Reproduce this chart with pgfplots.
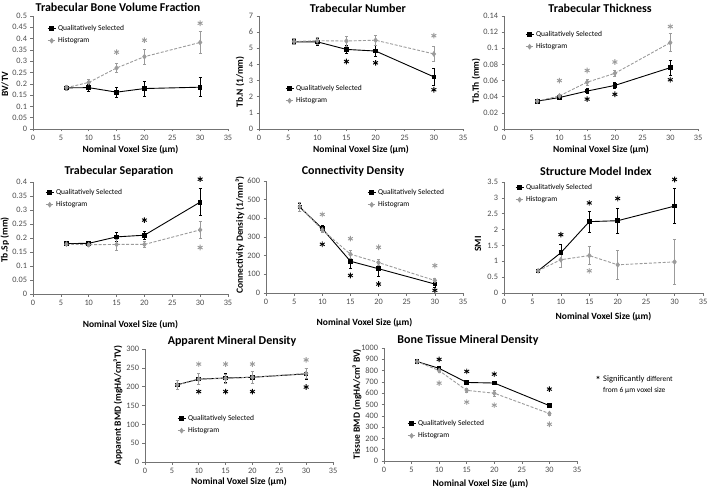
\documentclass[border=0pt]{standalone}
\usepackage{fontspec}
\setmainfont{Carlito}
\usepackage{pgfplots}
\pgfplotsset{compat=1.18}
\definecolor{hg}{HTML}{9B9B9B}
\definecolor{tk}{HTML}{4D4D4D}
\pgfplotsset{
 panel/.style={
   scale only axis, anchor=south west, clip=false,
   xmin=0, xmax=35, xtick={0,5,10,15,20,25,30,35}, ymin=0,
   axis lines=left, axis line style={-, draw=black!55, line width=0.6pt},
   tick align=outside, major tick length=2.5pt,
   tick style={draw=black!55, line width=0.5pt},
   tick label style={font=\fontsize{8.3}{9}\selectfont, text=tk},
   /pgf/number format/assume math mode=true,
   scaled y ticks=false,
   yticklabel style={/pgf/number format/fixed, /pgf/number format/precision=2, /pgf/number format/1000 sep={}},
   xlabel={Nominal Voxel Size (µm)},
   label style={font=\bfseries\fontsize{9.5}{10}\selectfont},
   title style={font=\bfseries\fontsize{12}{13}\selectfont, anchor=center},
   legend style={draw=none, fill=none, font=\fontsize{7.5}{8}\selectfont, anchor=north west, inner sep=0pt, row sep=1.5pt},
   legend cell align=left,
   legend entries={Qualitatively Selected, Histogram},
   legend image code/.code={\draw[mark repeat=2, mark phase=2] plot coordinates {(0pt,0pt) (4pt,0pt) (8pt,0pt)};},
 },
 qs/.style={black, line width=0.9pt, mark=square*, mark size=1.8pt, mark options={solid},
   error bars/.cd, y dir=both, y explicit, error bar style={black, line width=0.6pt},
   error mark options={rotate=90, mark size=1.6pt, black, line width=0.6pt}},
 hs/.style={hg, line width=0.9pt, dash pattern=on 3pt off 1.6pt, mark=diamond*, mark size=2.2pt, mark options={solid},
   error bars/.cd, y dir=both, y explicit, error bar style={hg, line width=0.6pt, solid},
   error mark options={rotate=90, mark size=1.6pt, hg, line width=0.6pt}},
 ab/.style={only marks, mark=asterisk, mark size=2.8pt, black, line width=0.9pt, forget plot},
 ag/.style={only marks, mark=asterisk, mark size=2.8pt, hg, line width=0.9pt, forget plot},
}
\begin{document}
\begin{tikzpicture}[x=1pt,y=1pt]
\useasboundingbox (0,0) rectangle (710,491);

% Panel 1
\begin{axis}[panel, at={(33pt,362pt)}, width=195pt, height=113pt, ymax=0.5,
  ytick={0,0.05,0.1,0.15,0.2,0.25,0.3,0.35,0.4,0.45,0.5},
  title={Trabecular Bone Volume Fraction}, title style={at={(axis description cs:0.436,1)}, yshift=3pt},
  ylabel={BV/TV}, ylabel style={at={(axis description cs:-0.144,0.398)}, anchor=center},
  xlabel style={at={(axis description cs:0.5,0)}, anchor=center, yshift=-21pt},
  legend style={at={(axis description cs:0.072,0.938)}}]
\addplot[qs] coordinates {(6,0.182) +- (0,0.010) (10,0.183) +- (0,0.015) (15,0.163) +- (0,0.022) (20,0.179) +- (0,0.033) (30,0.185) +- (0,0.042)};
\addplot[hs] coordinates {(6,0.183) +- (0,0.012) (10,0.206) +- (0,0.015) (15,0.270) +- (0,0.020) (20,0.320) +- (0,0.033) (30,0.383) +- (0,0.048)};
\addplot[ag] coordinates {(15,0.340) (20,0.393) (30,0.468)};
\end{axis}

% Panel 2
\begin{axis}[panel, at={(259pt,362pt)}, width=204pt, height=113pt, ymax=7,
  ytick={0,1,2,3,4,5,6,7},
  title={Trabecular Number}, title style={at={(axis description cs:0.485,1)}, yshift=2pt},
  ylabel={Tb.N (1/mm)}, ylabel style={at={(axis description cs:-0.093,0.416)}, anchor=center},
  xlabel style={at={(axis description cs:0.5,0)}, anchor=center, yshift=-21pt},
  legend style={at={(axis description cs:0.127,0.407)}}]
\addplot[qs] coordinates {(6,5.40) +- (0,0.15) (10,5.40) +- (0,0.20) (15,4.93) +- (0,0.25) (20,4.83) +- (0,0.35) (30,3.23) +- (0,0.50)};
\addplot[hs] coordinates {(6,5.42) +- (0,0.20) (10,5.47) +- (0,0.20) (15,5.45) +- (0,0.30) (20,5.50) +- (0,0.30) (30,4.65) +- (0,0.45)};
\addplot[ab] coordinates {(15,4.18) (20,4.10) (30,2.43)};
\addplot[ag] coordinates {(30,5.78)};
\end{axis}

% Panel 3
\begin{axis}[panel, at={(504pt,362pt)}, width=194pt, height=113pt, ymax=0.14,
  ytick={0,0.02,0.04,0.06,0.08,0.1,0.12,0.14},
  title={Trabecular Thickness}, title style={at={(axis description cs:0.495,1)}, yshift=2pt},
  ylabel={Tb.Th (mm)}, ylabel style={at={(axis description cs:-0.144,0.425)}, anchor=center},
  xlabel style={at={(axis description cs:0.5,0)}, anchor=center, yshift=-21pt},
  legend style={at={(axis description cs:0.108,0.885)}}]
\addplot[qs] coordinates {(6,0.0345) +- (0,0.001) (10,0.039) +- (0,0.0015) (15,0.047) +- (0,0.003) (20,0.054) +- (0,0.004) (30,0.076) +- (0,0.009)};
\addplot[hs] coordinates {(6,0.0345) +- (0,0.001) (10,0.041) +- (0,0.002) (15,0.058) +- (0,0.004) (20,0.069) +- (0,0.004) (30,0.107) +- (0,0.011)};
\addplot[ag] coordinates {(10,0.060) (15,0.0725) (20,0.083) (30,0.127)};
\addplot[ab] coordinates {(15,0.037) (20,0.043) (30,0.061)};
\end{axis}

% Panel 4
\begin{axis}[panel, at={(33pt,197pt)}, width=195pt, height=112pt, ymax=0.4,
  ytick={0,0.05,0.1,0.15,0.2,0.25,0.3,0.35,0.4},
  title={Trabecular Separation}, title style={at={(axis description cs:0.441,1)}, yshift=5pt},
  ylabel={Tb.Sp (mm)}, ylabel style={at={(axis description cs:-0.144,0.482)}, anchor=center},
  xlabel={Nominal Voxel Size (um)},
  xlabel style={at={(axis description cs:0.5,0)}, anchor=center, yshift=-31pt},
  legend style={at={(axis description cs:0.062,0.955)}}]
\addplot[qs] coordinates {(6,0.180) +- (0,0.004) (10,0.181) +- (0,0.005) (15,0.204) +- (0,0.015) (20,0.210) +- (0,0.015) (30,0.328) +- (0,0.048)};
\addplot[hs] coordinates {(6,0.178) +- (0,0.005) (10,0.176) +- (0,0.007) (15,0.177) +- (0,0.020) (20,0.177) +- (0,0.010) (30,0.229) +- (0,0.030)};
\addplot[ab] coordinates {(20,0.264) (30,0.410)};
\addplot[ag] coordinates {(30,0.166)};
\end{axis}

% Panel 5
\begin{axis}[panel, at={(266pt,198pt)}, width=197pt, height=112pt, ymax=600,
  ytick={0,100,200,300,400,500,600},
  title={Connectivity Density}, title style={at={(axis description cs:0.442,1)}, yshift=4pt},
  ylabel={Connectivity Density (1/mm³)}, ylabel style={at={(axis description cs:-0.132,0.518)}, anchor=center},
  xlabel style={at={(axis description cs:0.5,0)}, anchor=center, yshift=-30pt},
  legend style={at={(axis description cs:0.513,0.946)}}]
\addplot[qs] coordinates {(6,460) +- (0,22) (10,345) +- (0,20) (15,170) +- (0,40) (20,130) +- (0,40) (30,48) +- (0,20)};
\addplot[hs] coordinates {(6,462) +- (0,25) (10,338) +- (0,15) (15,208) +- (0,20) (20,163) +- (0,15) (30,67) +- (0,12)};
\addplot[ag] coordinates {(10,421) (15,291) (20,245) (30,147)};
\addplot[ab] coordinates {(10,261) (15,94) (20,48) (30,14)};
\end{axis}

% Panel 6
\begin{axis}[panel, at={(504pt,198pt)}, width=199pt, height=111pt, ymax=3.5,
  ytick={0,0.5,1,1.5,2,2.5,3,3.5},
  title={Structure Model Index}, title style={at={(axis description cs:0.462,1)}, yshift=4.5pt},
  ylabel={SMI}, ylabel style={at={(axis description cs:-0.131,0.441)}, anchor=center},
  xlabel style={at={(axis description cs:0.5,0)}, anchor=center, yshift=-24pt},
  legend style={at={(axis description cs:0.055,1.0)}}]
\addplot[qs] coordinates {(6,0.70) +- (0,0.05) (10,1.27) +- (0,0.25) (15,2.25) +- (0,0.33) (20,2.28) +- (0,0.40) (30,2.74) +- (0,0.55)};
\addplot[hs] coordinates {(6,0.70) +- (0,0.05) (10,1.05) +- (0,0.25) (15,1.18) +- (0,0.28) (20,0.89) +- (0,0.45) (30,0.98) +- (0,0.70)};
\addplot[ab] coordinates {(10,1.84) (15,2.84) (20,2.98) (30,3.58)};
\addplot[ag] coordinates {(15,0.70)};
\end{axis}

% Panel 7
\begin{axis}[panel, at={(145pt,29pt)}, width=188pt, height=113pt, ymax=300,
  ytick={0,50,100,150,200,250,300},
  title={Apparent Mineral Density}, title style={at={(axis description cs:0.463,1)}, yshift=2pt},
  ylabel={Apparent BMD (mgHA/cm³TV)}, ylabel style={at={(axis description cs:-0.144,0.5)}, anchor=center},
  xlabel style={at={(axis description cs:0.5,0)}, anchor=center, yshift=-20pt},
  legend style={at={(axis description cs:0.17,0.434)}}]
\addplot[qs] coordinates {(6,205) +- (0,13) (10,220) +- (0,15) (15,223) +- (0,12) (20,225) +- (0,15) (30,234) +- (0,14)};
\addplot[hs] coordinates {(6,205) +- (0,13) (10,220) +- (0,15) (15,222) +- (0,12) (20,225) +- (0,15) (30,235) +- (0,14)};
\addplot[ag] coordinates {(10,260) (15,260) (20,260) (30,271)};
\addplot[ab] coordinates {(10,187) (15,187) (20,187) (30,199)};
\end{axis}

% Panel 8
\begin{axis}[panel, at={(384pt,30pt)}, width=193pt, height=113pt, ymax=1000,
  ytick={0,100,200,300,400,500,600,700,800,900,1000},
  title={Bone Tissue Mineral Density}, title style={at={(axis description cs:0.435,1)}, yshift=2pt},
  ylabel={Tissue BMD (mgHA/cm³ BV)}, ylabel style={at={(axis description cs:-0.14,0.504)}, anchor=center},
  xlabel style={at={(axis description cs:0.5,0)}, anchor=center, yshift=-23pt},
  legend style={at={(axis description cs:0.119,0.38)}}]
\addplot[qs] coordinates {(6,880) +- (0,8) (10,820) +- (0,12) (15,695) +- (0,8) (20,690) +- (0,12) (30,490) +- (0,10)};
\addplot[hs] coordinates {(6,880) +- (0,8) (10,800) +- (0,15) (15,625) +- (0,20) (20,600) +- (0,30) (30,420) +- (0,15)};
\addplot[ab] coordinates {(10,899) (15,793) (20,769) (30,636)};
\addplot[ag] coordinates {(10,689) (15,521) (20,494) (30,325)};
\end{axis}

% note
\node[font=\bfseries\fontsize{10}{10}\selectfont, inner sep=0pt] at (598,111) {*};
\node[anchor=west, inner sep=0pt, font=\fontsize{8.5}{9}\selectfont] at (603,112) {Significantly {\fontsize{7.5}{8}\selectfont different}};
\node[anchor=west, inner sep=0pt, font=\fontsize{7.5}{8}\selectfont] at (603,101) {from 6 µm voxel size};
\end{tikzpicture}
\end{document}
